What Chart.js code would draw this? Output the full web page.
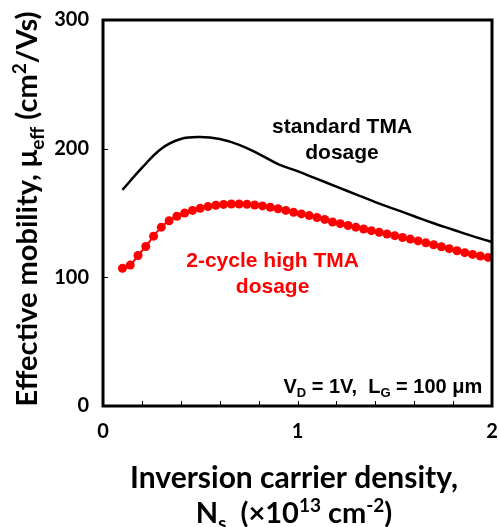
<!DOCTYPE html>
<html>
<head>
<meta charset="utf-8">
<script src="https://cdn.jsdelivr.net/npm/chart.js@4"></script>
<style>
  body { margin: 0; background: #fff; }
</style>
</head>
<body>
<canvas id="chart" width="499" height="527"></canvas>
<script>
// ---------- Data ----------
const stdX = [0.1, 0.2, 0.3, 0.4, 0.5, 0.6, 0.7, 0.8, 0.9, 1.0,
              1.1, 1.2, 1.3, 1.4, 1.5, 1.6, 1.7, 1.8, 1.9, 2.0];
const stdY = [168, 185, 200, 207.5, 209, 207.5, 203, 196, 188, 182.5,
              176.5, 170.5, 164.5, 158.5, 153, 147.5, 142, 137, 132, 127.5];

const highX = [0.10, 0.14, 0.18, 0.22, 0.26, 0.30, 0.34, 0.38, 0.42, 0.46,
               0.50, 0.54, 0.58, 0.62, 0.66, 0.70, 0.74, 0.78, 0.82, 0.86,
               0.90, 0.94, 0.98, 1.02, 1.06, 1.10, 1.14, 1.18, 1.22, 1.26,
               1.30, 1.34, 1.38, 1.42, 1.46, 1.50, 1.54, 1.58, 1.62, 1.66,
               1.70, 1.74, 1.78, 1.82, 1.86, 1.90, 1.94, 1.98];
const highY = [107, 109.5, 117, 124, 132, 139, 144, 147.5, 150, 152,
               153.6, 155, 156, 156.7, 157, 157, 156.8, 156.2, 155.5, 154.5,
               153.3, 152, 150.5, 149.3, 148, 146.5, 145, 143, 141.7, 140.3,
               139, 137.6, 136.3, 135, 133.7, 132.4, 131, 129.7, 128.3, 126.8,
               125.3, 123.8, 122.3, 120.7, 119.2, 117.8, 116.6, 115.5];

const xTickLabels = ['0', '1', '2'];
const yTickLabels = ['0', '100', '200', '300'];

const toPoints = (xs, ys) => xs.map((x, i) => ({ x, y: ys[i] }));

const axisFont = 'Lato';
const noteFont = '"Liberation Sans", Arial, sans-serif';

// ---------- Rich text (sub / superscripts) ----------
function drawRich(ctx, parts, x, y, size, family, color, align) {
  const fontFor = kind => 'bold ' + (kind === 'n' ? size : Math.round(size * 0.65)) + 'px ' + family;
  ctx.save();
  ctx.fillStyle = color;
  ctx.textBaseline = 'alphabetic';
  ctx.textAlign = 'left';
  let total = 0;
  parts.forEach(([t, kind]) => { ctx.font = fontFor(kind); total += ctx.measureText(t).width; });
  let cx = x;
  if (align === 'center') cx = x - total / 2;
  if (align === 'right') cx = x - total;
  const base = y + size * 0.35;
  parts.forEach(([t, kind]) => {
    ctx.font = fontFor(kind);
    let dy = 0;
    if (kind === 'sub') dy = size * 0.22;
    if (kind === 'sup') dy = -size * 0.38;
    ctx.fillText(t, cx, base + dy);
    cx += ctx.measureText(t).width;
  });
  ctx.restore();
}

// ---------- Frame, inward ticks and labels ----------
const decorPlugin = {
  id: 'decor',
  afterDraw(chart) {
    const { ctx, chartArea: a, scales: { x, y } } = chart;
    ctx.save();
    ctx.strokeStyle = '#000';
    ctx.lineWidth = 1;
    x.ticks.forEach(t => {
      if (t.value <= 0 || t.value >= 2) return;
      const px = Math.round(x.getPixelForValue(t.value)) + 0.5;
      ctx.beginPath(); ctx.moveTo(px, a.bottom); ctx.lineTo(px, a.bottom - 5); ctx.stroke();
    });
    y.ticks.forEach(t => {
      if (t.value <= 0 || t.value >= 300) return;
      const py = Math.round(y.getPixelForValue(t.value)) + 0.5;
      ctx.beginPath(); ctx.moveTo(a.left, py); ctx.lineTo(a.left + 5, py); ctx.stroke();
    });
    ctx.lineWidth = 3;
    ctx.strokeRect(a.left, a.top, a.right - a.left, a.bottom - a.top);
    ctx.restore();

    // notes inside the plot
    const nx = v => x.getPixelForValue(v);
    const ny = v => y.getPixelForValue(v);
    drawRich(ctx, [['standard TMA', 'n']], nx(1.229), ny(218), 21, noteFont, '#000', 'center');
    drawRich(ctx, [['dosage', 'n']], nx(1.229), ny(198), 21, noteFont, '#000', 'center');
    drawRich(ctx, [['2-cycle high TMA', 'n']], nx(0.872), ny(113.4), 21, noteFont, '#ff0000', 'center');
    drawRich(ctx, [['dosage', 'n']], nx(0.872), ny(93.2), 21, noteFont, '#ff0000', 'center');
    drawRich(ctx, [['V', 'n'], ['D', 'sub'], [' = 1V,  L', 'n'], ['G', 'sub'], [' = 100 μm', 'n']],
      nx(1.95), ny(15.5), 20, noteFont, '#000', 'right');

    // axis titles
    drawRich(ctx, [['Inversion carrier density,', 'n']], 294, 477, 30, axisFont, '#000', 'center');
    drawRich(ctx, [['N', 'n'], ['s', 'sub'], ['  (×10', 'n'], ['13', 'sup'], [' cm', 'n'], ['-2', 'sup'], [')', 'n']],
      294, 513, 29, axisFont, '#000', 'center');
    ctx.save();
    ctx.translate(27, 209);
    ctx.rotate(-Math.PI / 2);
    drawRich(ctx, [['Effective mobility, μ', 'n'], ['eff', 'sub'], [' (cm', 'n'], ['2', 'sup'], ['/Vs)', 'n']],
      0, 0, 29, axisFont, '#000', 'center');
    ctx.restore();
  }
};

new Chart(document.getElementById('chart'), {
  type: 'line',
  data: {
    datasets: [
      {
        label: 'standard TMA dosage',
        data: toPoints(stdX, stdY),
        borderColor: '#000',
        borderWidth: 2.5,
        pointRadius: 0,
        tension: 0.4,
        fill: false
      },
      {
        label: '2-cycle high TMA dosage',
        data: toPoints(highX, highY),
        borderColor: '#ff0000',
        borderWidth: 2,
        backgroundColor: '#ff0000',
        pointRadius: 4.5,
        pointBorderWidth: 0,
        tension: 0.3,
        fill: false
      }
    ]
  },
  options: {
    responsive: false,
    animation: false,
    layout: { padding: { top: 20, right: 7, left: 0, bottom: 0 } },
    plugins: { legend: { display: false }, tooltip: { enabled: false } },
    scales: {
      x: {
        type: 'linear',
        min: 0, max: 2,
        grid: { display: false },
        border: { display: false },
        afterFit: s => { s.height = 121; s.paddingLeft = 0; s.paddingRight = 0; },
        ticks: {
          stepSize: 0.2,
          autoSkip: false,
          maxRotation: 0,
          padding: 6,
          color: '#000',
          font: { family: axisFont, size: 20, weight: 'bold' },
          callback: v => {
            const i = xTickLabels.indexOf(String(Math.round(v)));
            return Math.abs(v - Math.round(v)) < 1e-6 && i >= 0 ? xTickLabels[i] : '';
          }
        }
      },
      y: {
        min: 0, max: 300,
        grid: { display: false },
        border: { display: false },
        afterFit: s => { s.width = 103; s.paddingTop = 0; s.paddingBottom = 0; },
        ticks: {
          stepSize: 100,
          padding: 6,
          color: '#000',
          font: { family: axisFont, size: 20, weight: 'bold' },
          callback: v => yTickLabels[Math.round(v / 100)]
        }
      }
    }
  },
  plugins: [decorPlugin]
});
</script>
</body>
</html>
